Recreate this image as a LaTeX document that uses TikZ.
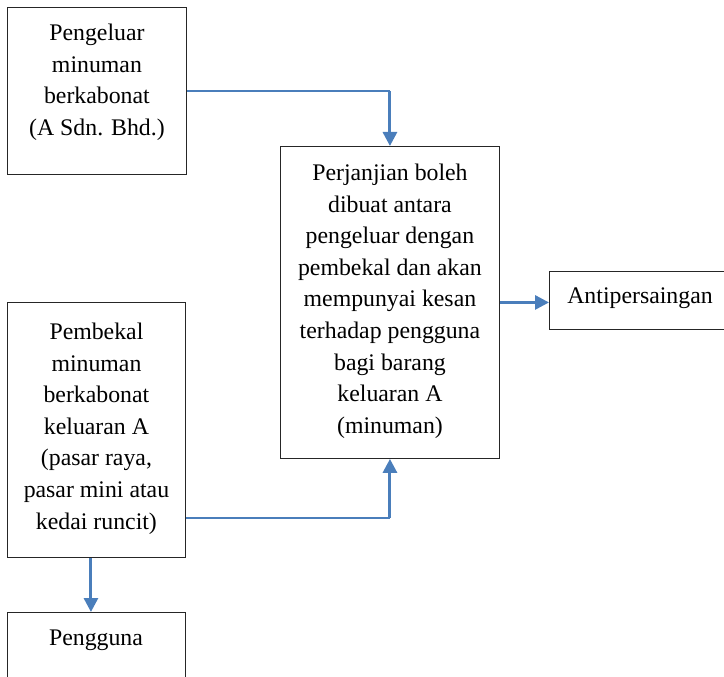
\documentclass[tikz,border=0pt]{standalone}
\usepackage{fontspec}
\setmainfont{Liberation Serif}
\usetikzlibrary{arrows.meta,positioning}
\definecolor{linkblue}{RGB}{74,126,187}

\begin{document}
\begin{tikzpicture}[x=1pt,y=-1pt,
    box/.style={draw=black!85,line width=0.9pt,rectangle,inner sep=0pt,anchor=north west},
    boxtext/.style={align=center,anchor=north,inner sep=0pt,font=\fontsize{23.8}{31.6}\selectfont},
    linetext/.style={anchor=base,inner sep=0pt,font=\fontsize{23.8}{31.6}\selectfont},
    link/.style={draw=linkblue,line width=1.3pt},
    linkhead/.style={draw=linkblue,line width=3pt,-{Triangle[length=14pt,width=14pt]}}]
    \clip (0,0) rectangle (724,677);
    \node[box,minimum width=179pt,minimum height=167pt] (pengeluar) at (7,7) {};
    \node[box,minimum width=219pt,minimum height=312pt] (perjanjian) at (280,146) {};
    \node[box,minimum width=190pt,minimum height=58pt] (anti) at (549,271) {};
    \node[box,minimum width=178pt,minimum height=255pt] (pembekal) at (7,302) {};
    \node[box,minimum width=178pt,minimum height=90pt] (pengguna) at (7,612) {};
    % texts
    \node[boxtext] (pengeluartext) at ([yshift=-16.7pt]pengeluar.north)
        {Pengeluar\\minuman\\berkabonat\\(A Sdn. Bhd.)};
    \node[boxtext] (perjanjiantext) at ([yshift=-17.7pt]perjanjian.north)
        {Perjanjian boleh\\dibuat antara\\pengeluar dengan\\pembekal dan akan\\mempunyai kesan\\terhadap pengguna\\bagi barang\\keluaran A\\(minuman)};
    \node[boxtext] (pembekaltext) at ([yshift=-20.7pt]pembekal.north)
        {Pembekal\\minuman\\berkabonat\\keluaran A\\(pasar raya,\\pasar mini atau\\kedai runcit)};
    \node[linetext] (antitext) at (640,303) {Antipersaingan};
    \node[linetext] (penggunatext) at (96,645) {Pengguna};
    % connectors
    \coordinate (bendtop) at (pengeluar.east -| perjanjian.north);
    \coordinate (startbot) at ([yshift=40pt]pembekal.south east);
    \coordinate (bendbot) at (startbot -| perjanjian.south);
    \draw[link] (pengeluar.east) -- (bendtop);
    \draw[linkhead] (bendtop) -- (perjanjian.north);
    \draw[link] (startbot) -- (bendbot);
    \draw[linkhead] (bendbot) -- (perjanjian.south);
    \draw[linkhead] (perjanjian.east) -- (perjanjian.east -| anti.west);
    \draw[linkhead] ([xshift=-5.5pt]pembekal.south) -- ([xshift=-5.5pt]pengguna.north);
\end{tikzpicture}
\end{document}
